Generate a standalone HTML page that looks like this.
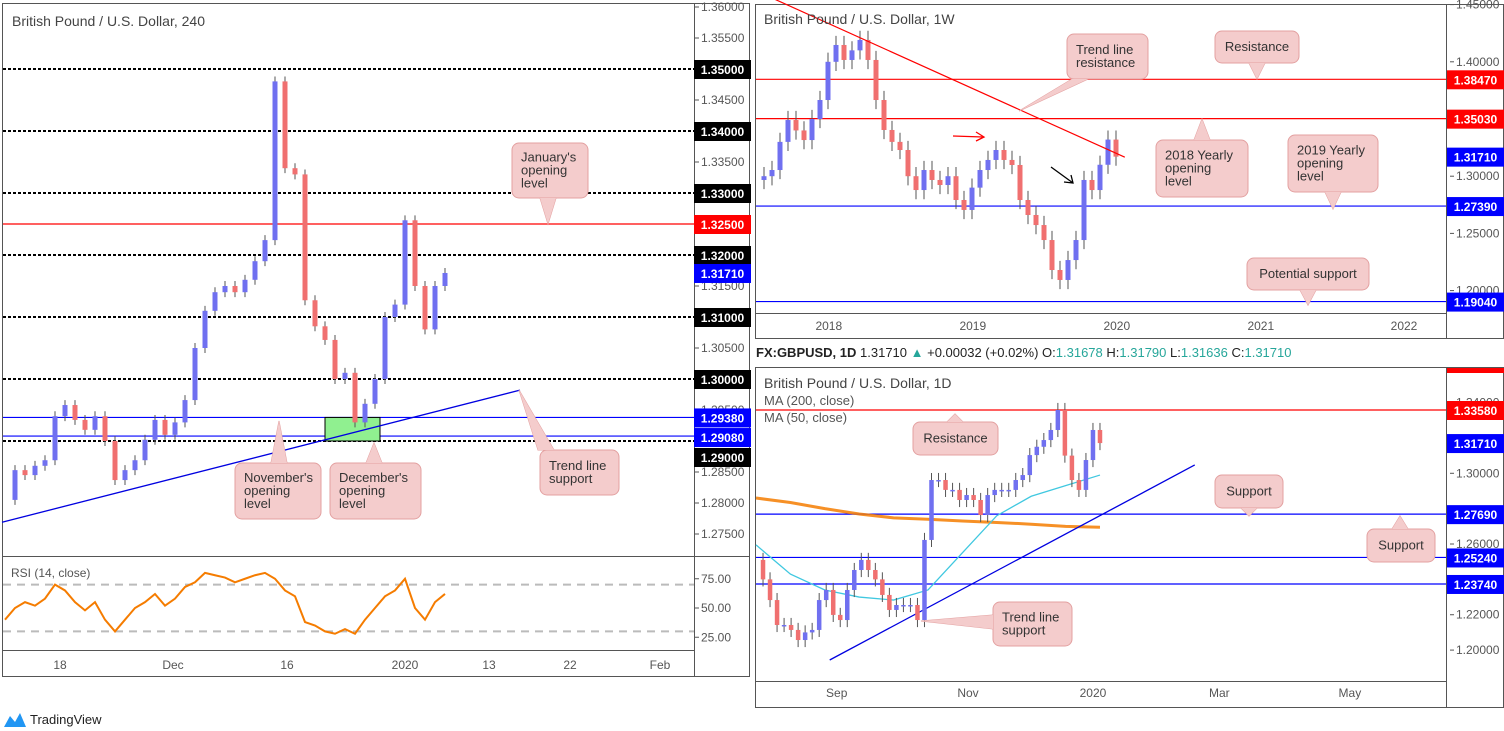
<!DOCTYPE html>
<html><head><meta charset="utf-8"><style>
html,body{margin:0;padding:0;background:#fff;}
svg{display:block;font-family:"Liberation Sans",sans-serif;}
</style></head><body>
<svg id="c" width="1504" height="731" viewBox="0 0 1504 731">
<rect x="0" y="0" width="1504" height="731" fill="#fff"/>
<rect x="2.5" y="3.5" width="747" height="673" fill="none" stroke="#555"/>
<line x1="694.5" y1="3" x2="694.5" y2="676" stroke="#555"/>
<line x1="2" y1="556.5" x2="750" y2="556.5" stroke="#555"/>
<line x1="2" y1="650.5" x2="694" y2="650.5" stroke="#555"/>
<rect x="755.5" y="4.5" width="748" height="334" fill="none" stroke="#555"/>
<line x1="1446.5" y1="4" x2="1446.5" y2="338" stroke="#555"/>
<line x1="755" y1="313.5" x2="1446" y2="313.5" stroke="#555"/>
<rect x="755.5" y="367.5" width="748" height="340" fill="none" stroke="#555"/>
<line x1="1446.5" y1="367" x2="1446.5" y2="707" stroke="#555"/>
<line x1="755" y1="681.5" x2="1446" y2="681.5" stroke="#555"/>
<g id="g"></g>
<text x="12" y="26" font-size="14" fill="#444">British Pound / U.S. Dollar, 240</text>
<text x="11" y="577" font-size="12" fill="#555">RSI (14, close)</text>
<text x="764" y="24" font-size="14" fill="#444">British Pound / U.S. Dollar, 1W</text>
<text x="764" y="388" font-size="14" fill="#444">British Pound / U.S. Dollar, 1D</text>
<text x="764" y="405" font-size="13" fill="#555">MA (200, close)</text>
<text x="764" y="422" font-size="13" fill="#555">MA (50, close)</text>
<text x="756" y="357" font-size="13" fill="#222"><tspan font-weight="bold">FX:GBPUSD, 1D</tspan> 1.31710 <tspan fill="#26a69a">▲</tspan> +0.00032 (+0.02%) O:<tspan fill="#26a69a">1.31678</tspan> H:<tspan fill="#26a69a">1.31790</tspan> L:<tspan fill="#26a69a">1.31636</tspan> C:<tspan fill="#26a69a">1.31710</tspan></text>
<g>
<path d="M4 727 L10 716 L15 722 L20 713 L26 727 Z" fill="#2196f3"/>
<text x="30" y="724" font-size="13" fill="#222">TradingView</text>
</g>
</svg>
<script>
const h4Closes=[1.2805,1.2853,1.2845,1.2860,1.2869,1.2940,1.2958,1.2934,1.2918,1.2940,1.2900,1.2837,1.2853,1.2869,1.2902,1.2934,1.2910,1.2930,1.2966,1.3050,1.3110,1.3140,1.3150,1.3140,1.3160,1.3190,1.3224,1.3480,1.3340,1.3330,1.3127,1.3085,1.3063,1.3000,1.3010,1.2930,1.2960,1.3000,1.3100,1.3120,1.3256,1.3150,1.3080,1.3150,1.3171];
const h4Rsi=[40,50,55,52,58,70,65,55,48,55,40,30,40,50,55,62,52,58,68,72,80,78,76,72,75,78,80,75,65,60,38,35,30,28,32,28,40,50,60,65,75,50,40,55,62];
const h4Ticks=[1.36,1.355,1.35,1.345,1.34,1.335,1.33,1.325,1.32,1.315,1.31,1.305,1.30,1.295,1.29,1.285,1.28,1.275];
const h4Dashed=[1.35,1.34,1.33,1.32,1.31,1.30,1.29];
const h4Dates=["18","Dec","16","2020","13","22","Feb"];
const h4DateIdx=[5.5,16.8,28.2,40,48.4,56.5,65.5];
const rsiTicks=[75,50,25];
const wkCloses=[1.2967,1.3000,1.3054,1.3300,1.3491,1.3400,1.3316,1.3500,1.3666,1.4000,1.4147,1.4016,1.4100,1.4191,1.4016,1.3666,1.3404,1.3300,1.3229,1.3000,1.2879,1.3054,1.2967,1.2923,1.3000,1.2792,1.2705,1.2900,1.3054,1.3142,1.3229,1.3142,1.3098,1.2792,1.2661,1.2573,1.2442,1.2180,1.2093,1.2267,1.2442,1.2967,1.2879,1.3100,1.3320,1.3171];
const wkTicks=[1.45,1.40,1.35,1.30,1.25,1.20];
const wkDates=["2018","2019","2020","2021","2022"];
const wkDateIdx=[9.1,27.1,45.1,63.1,81];
const dCloses=[1.2510,1.2400,1.2283,1.2142,1.2142,1.2114,1.2057,1.2100,1.2114,1.2283,1.2340,1.2199,1.2170,1.2340,1.2453,1.2510,1.2453,1.2400,1.2312,1.2227,1.2255,1.2255,1.2255,1.2170,1.2623,1.2962,1.2962,1.2906,1.2906,1.2849,1.2877,1.2849,1.2764,1.2877,1.2906,1.2906,1.2906,1.2962,1.2990,1.3103,1.3150,1.3188,1.3245,1.3358,1.3100,1.2962,1.2906,1.3075,1.3245,1.3171];
const ma200=[1.2860,1.2835,1.2800,1.2770,1.2748,1.2740,1.2730,1.2722,1.2712,1.2700,1.2695];
const ma50=[1.2595,1.2430,1.2340,1.2300,1.2283,1.2340,1.2550,1.2760,1.2870,1.2930,1.2990];
const dTicks=[1.34,1.30,1.26,1.22,1.20];
const dDates=["Sep","Nov","2020","Mar","May"];
const dDateIdx=[11.5,30.2,48,66,84.6];

const hy=p=>69+(1.35-p)*6200, hx=i=>5+i*10, ry=r=>608-(r-50)*1.17;
const wy=p=>119+(1.35-p)*1144, wx=i=>756+i*8;
const dy=p=>410+(1.3358-p)*1768, dx=i=>756+i*7.02;

const NS="http://www.w3.org/2000/svg";
const G=document.getElementById('g');
function mk(t,a,txt){const e=document.createElementNS(NS,t);for(const k in a)e.setAttribute(k,a[k]);if(txt!==undefined)e.textContent=txt;G.appendChild(e);return e;}

function hline(x1,x2,y,col,w,dash,name){
  const e=mk('line',{x1:x1,x2:x2,y1:y,y2:y,stroke:col,'stroke-width':w});
  if(dash)e.setAttribute('stroke-dasharray',dash);
  
  
}
function ticks(arr,fy,x,dec,name,ymin,ymax){
  arr.forEach(v=>{const y=fy(v);if(y<ymin||y>ymax)return;
    const t=mk('text',{x:x,y:y+4,'font-size':12,fill:'#555'},v.toFixed(dec));
    
    
    const l=mk('line',{x1:x-6,x2:x-2,y1:y,y2:y,stroke:'#555'});
    
    });
}
function dates(lbl,idx,fx,y,name,xmax){
  lbl.forEach((s,k)=>{const x=fx(idx[k]);if(x>xmax)return;
    const t=mk('text',{x:x,y:y,'font-size':12,fill:'#555','text-anchor':'middle'},s);
    
    });
}
function candles(arr,fx,fy,w,wick,name){
  arr.forEach((c,i)=>{if(i===0)return;const o=arr[i-1];const x=fx(i);
    const up=c>=o,col=up?'#7070f0':'#f07070';
    const l=mk('line',{x1:x,x2:x,y1:fy(Math.max(o,c)+wick),y2:fy(Math.min(o,c)-wick),stroke:'#555','stroke-width':1});
    
    
    const y1=fy(Math.max(o,c)),y2=fy(Math.min(o,c));
    const r=mk('rect',{x:x-w/2,y:y1,width:w,height:Math.max(1.5,y2-y1),fill:col});
    
    });
}
function plabel(x,y,txt,bg,name){
  const r=mk('rect',{x:x,y:y-9,width:57,height:19,fill:bg});
  
  
  const t=mk('text',{x:x+28.5,y:y+5,'font-size':12,'font-weight':'bold',fill:'#fff','text-anchor':'middle'},txt);
  
  
}
function callout(bx,by,bw,bh,tx,ty,side,pos,lines,name){
  let tri;
  if(side==='bottom')tri=[[pos-8,by+bh],[tx,ty],[pos+8,by+bh]];
  else if(side==='top')tri=[[pos-8,by],[tx,ty],[pos+8,by]];
  else tri=[[bx,pos-7],[tx,ty],[bx,pos+7]];
  const ps=tri.map(p=>p.join(',')).join(' ');
  const p1=mk('polygon',{points:ps,fill:'#f4cccc',stroke:'#e3a0a0'});
  
  
  const r=mk('rect',{x:bx,y:by,width:bw,height:bh,rx:7,fill:'#f4cccc',stroke:'#e3a0a0'});
  
  
  const p2=mk('polygon',{points:ps,fill:'#f4cccc'});
  
  
  const lh=13,y0=by+bh/2-(lines.length-1)*lh/2+4;
  lines.forEach((s,k)=>{const t=mk('text',{x:bx+(lines.length>1?9:bw/2),y:y0+k*lh,'font-size':13,fill:'#333','text-anchor':lines.length>1?'start':'middle'},s);
    
    });
}

ticks(h4Ticks,hy,701,5,'h4-price-tick',5,550);
h4Dashed.forEach(v=>hline(3,694,hy(v),'#000',2,'3,2','h4-round-level'));
hline(3,694,hy(1.325),'#f00',1.2,null,'january-opening-line');
hline(3,694,hy(1.2938),'#00f',1.2,null,'november-opening-line');
hline(3,694,hy(1.2908),'#00f',1.2,null,'december-opening-line');
const gz=mk('rect',{x:hx(32),y:hy(1.2938),width:55,height:hy(1.2900)-hy(1.2938),fill:'#90f090',stroke:'#000'});


const tl1=mk('line',{x1:hx(-0.3),y1:hy(1.2769),x2:hx(51.5),y2:hy(1.2982),stroke:'#0000e0','stroke-width':1.3});


candles(h4Closes,hx,hy,5,0.0008,'h4-candle');
hline(3,694,ry(70),'#bbb',2,'8,6','rsi-upper-band');
hline(3,694,ry(30),'#bbb',2,'8,6','rsi-lower-band');
ticks(rsiTicks,ry,701,2,'rsi-tick',560,648);
const rp=mk('polyline',{points:h4Rsi.map((r,i)=>hx(i)+','+ry(r)).join(' '),fill:'none',stroke:'#f57c00','stroke-width':2});


dates(h4Dates,h4DateIdx,hx,669,'h4-date-label',690);
plabel(694,hy(1.35),'1.35000','#000','label-1-35');
plabel(694,hy(1.34),'1.34000','#000','label-1-34');
plabel(694,hy(1.33),'1.33000','#000','label-1-33');
plabel(694,hy(1.325),'1.32500','#f00','label-1-325');
plabel(694,hy(1.32),'1.32000','#000','label-1-32');
plabel(694,hy(1.3171),'1.31710','#00f','label-current-h4');
plabel(694,hy(1.31),'1.31000','#000','label-1-31');
plabel(694,hy(1.30),'1.30000','#000','label-1-30');
plabel(694,hy(1.2938),'1.29380','#00f','label-1-2938');
plabel(694,hy(1.2908)+1,'1.29080','#00f','label-1-2908');
plabel(694,hy(1.29)+16,'1.29000','#000','label-1-29');
callout(512,143,76,55,548,224,'bottom',548,["January's","opening","level"],'january-callout');
callout(235,463,86,56,279,421,'top',279,["November's","opening","level"],'november-callout');
callout(330,463,91,56,374,443,'top',374,["December's","opening","level"],'december-callout');
callout(540,450,79,45,519,390,'top',546,["Trend line","support"],'h4-trendline-callout');

ticks(wkTicks,wy,1456,5,'weekly-price-tick',4,312);
hline(756,1446,wy(1.3847),'#f00',1.2,null,'weekly-resistance-line');
hline(756,1446,wy(1.3503),'#f00',1.2,null,'yearly-2018-line');
hline(756,1446,wy(1.2739),'#00f',1.2,null,'yearly-2019-line');
hline(756,1446,wy(1.1904),'#00f',1.2,null,'potential-support-line');
candles(wkCloses,wx,wy,5,0.008,'weekly-candle');
const tl2=mk('line',{x1:wx(1.8),y1:wy(1.4564),x2:wx(46.1),y2:wy(1.3166),stroke:'#f00','stroke-width':1.2});


const ra=mk('path',{d:'M953 136 L983 137 M976 132 L984 137 L976 141',stroke:'#f00','stroke-width':1.3,fill:'none'});


const ba=mk('path',{d:'M1051 167 L1073 183 M1064 182 L1073 183 L1071 175',stroke:'#000','stroke-width':1.3,fill:'none'});


dates(wkDates,wkDateIdx,wx,330,'weekly-date-label',1440);
plabel(1447,wy(1.3847),'1.38470','#f00','label-1-3847');
plabel(1447,wy(1.3503),'1.35030','#f00','label-1-3503');
plabel(1447,wy(1.3171),'1.31710','#00f','label-current-weekly');
plabel(1447,wy(1.2739),'1.27390','#00f','label-1-2739');
plabel(1447,wy(1.1904),'1.19040','#00f','label-1-1904');
callout(1067,34,81,45,1019,111,'bottom',1080,["Trend line","resistance"],'trendline-resistance-callout');
callout(1215,31,84,32,1257,79,'bottom',1257,["Resistance"],'weekly-resistance-callout');
callout(1156,140,92,57,1202,119,'top',1202,["2018 Yearly","opening","level"],'yearly-2018-callout');
callout(1288,135,90,57,1333,209,'bottom',1333,["2019 Yearly","opening","level"],'yearly-2019-callout');
callout(1247,258,122,32,1308,305,'bottom',1308,["Potential support"],'potential-support-callout');

ticks(dTicks,dy,1456,5,'daily-price-tick',372,680);
hline(756,1446,dy(1.3358),'#f00',1.2,null,'daily-resistance-line');
hline(756,1446,dy(1.2769),'#00f',1.2,null,'daily-support-1-line');
hline(756,1446,dy(1.2524),'#00f',1.2,null,'daily-support-2-line');
hline(756,1446,dy(1.2374),'#00f',1.2,null,'daily-support-3-line');
const m2=mk('polyline',{points:ma200.map((v,k)=>dx(k*4.9)+','+dy(v)).join(' '),fill:'none',stroke:'#f57c00','stroke-width':3,'stroke-opacity':0.85});


const m5=mk('polyline',{points:ma50.map((v,k)=>dx(k*4.9)+','+dy(v)).join(' '),fill:'none',stroke:'#40c8e0','stroke-width':1.3});


const tl3=mk('line',{x1:dx(10.5),y1:dy(1.1944),x2:dx(62.5),y2:dy(1.3047),stroke:'#0000e0','stroke-width':1.3});


candles(dCloses,dx,dy,4.5,0.004,'daily-candle');
dates(dDates,dDateIdx,dx,697,'daily-date-label',1440);
const rt=mk('rect',{x:1447,y:368,width:57,height:5,fill:'#f00'});


plabel(1447,dy(1.3358),'1.33580','#f00','label-1-3358');
plabel(1447,dy(1.3171),'1.31710','#00f','label-current-daily');
plabel(1447,dy(1.2769),'1.27690','#00f','label-1-2769');
plabel(1447,dy(1.2524),'1.25240','#00f','label-1-2524');
plabel(1447,dy(1.2374),'1.23740','#00f','label-1-2374');
callout(913,422,85,33,955,414,'top',955,["Resistance"],'daily-resistance-callout');
callout(1215,475,68,33,1249,516,'bottom',1249,["Support"],'daily-support-callout-1');
callout(1367,529,68,33,1400,516,'top',1400,["Support"],'daily-support-callout-2');
callout(993,602,79,44,921,621,'left',622,["Trend line","support"],'daily-trendline-callout');
</script>
</body></html>
